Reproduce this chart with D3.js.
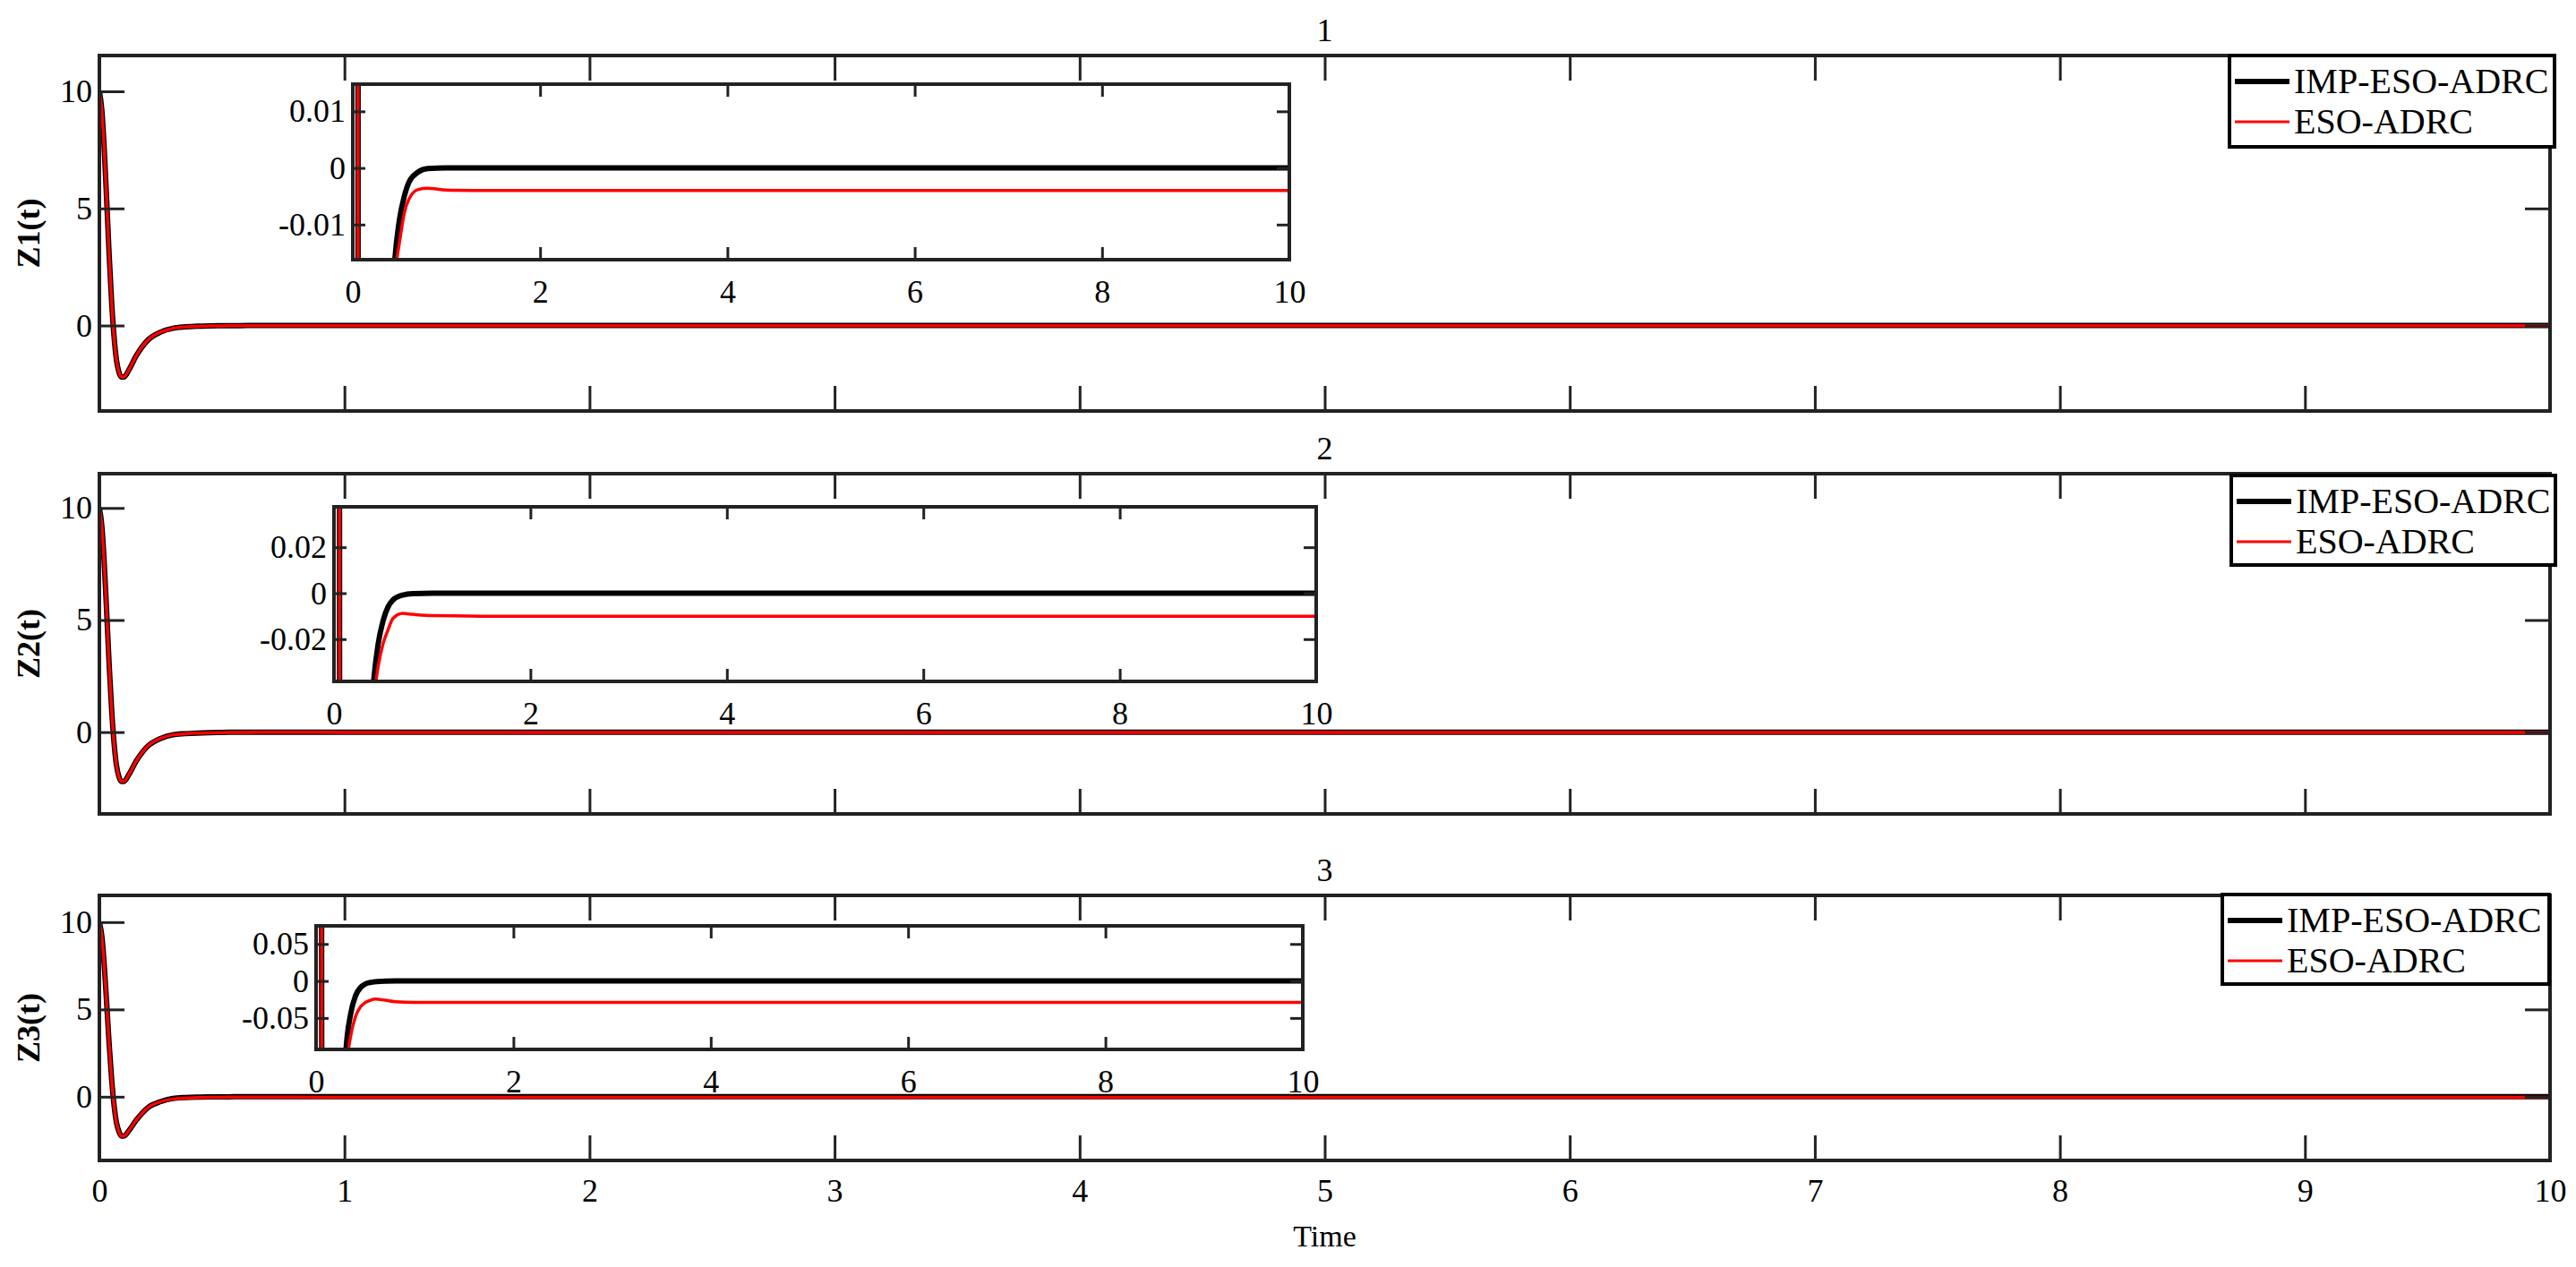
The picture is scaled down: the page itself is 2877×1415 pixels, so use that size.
<!DOCTYPE html>
<html><head><meta charset="utf-8">
<script src="https://cdn.jsdelivr.net/npm/d3@7"></script>
<style>body{margin:0;background:#fff}svg{display:block}svg text{font-family:"Liberation Serif","Times New Roman",serif !important;fill:#000}</style>
</head><body>
<script>
// ---- data ----
const seriesNames = ["IMP-ESO-ADRC", "ESO-ADRC"];
const panelTitles = ["1", "2", "3"];
const yLabels = ["Z1(t)", "Z2(t)", "Z3(t)"];
const mainXTicks = [0,1,2,3,4,5,6,7,8,9,10];
const mainYTicks = [0,5,10];
const insetXTicks = [0,2,4,6,8,10];
const insetYTicks1 = [-0.01, 0, 0.01];
const insetYTicks2 = [-0.02, 0, 0.02];
const insetYTicks3 = [-0.05, 0, 0.05];
const insetYDomains = [[-0.0162, 0.0148], [-0.0384, 0.0376], [-0.0925, 0.0745]];
const t = [0,0.01,0.02,0.03,0.04,0.05,0.06,0.07,0.08,0.09,0.1,0.12,0.15,0.2,0.25,0.3,0.35,0.4,0.45,0.5,0.55,0.6,0.7,0.8,1,1.5,2,10];
const imp1 = [10,9.2,7.5,5.3,3.0,1.0,-0.5,-1.5,-2.0,-2.2,-2.2,-1.9,-1.3,-0.6,-0.28,-0.12,-0.06,-0.03,-0.016,-0.009,-0.005,-0.0025,-0.0007,-0.0001,0,0,0,0];
const eso1 = [10,9.2,7.5,5.3,3.0,1.0,-0.5,-1.5,-2.0,-2.2,-2.2,-1.9,-1.3,-0.6,-0.28,-0.12,-0.06,-0.032,-0.019,-0.013,-0.008,-0.0055,-0.0038,-0.0036,-0.0039,-0.004,-0.004,-0.004];
const imp2 = [10,9.2,7.5,5.3,3.0,1.0,-0.5,-1.5,-2.0,-2.2,-2.2,-1.9,-1.3,-0.6,-0.28,-0.12,-0.07,-0.04,-0.022,-0.012,-0.006,-0.003,-0.0008,-0.0002,0,0,0,0];
const eso2 = [10,9.2,7.5,5.3,3.0,1.0,-0.5,-1.5,-2.0,-2.2,-2.2,-1.9,-1.3,-0.6,-0.28,-0.12,-0.075,-0.048,-0.032,-0.022,-0.016,-0.011,-0.0088,-0.0092,-0.0098,-0.01,-0.01,-0.01];
const imp3 = [10,9.2,7.5,5.3,3.0,1.0,-0.5,-1.5,-2.0,-2.25,-2.25,-1.95,-1.35,-0.6,-0.28,-0.1,-0.045,-0.02,-0.009,-0.004,-0.002,-0.001,-0.0002,0,0,0,0,0];
const eso3 = [10,9.2,7.5,5.3,3.0,1.0,-0.5,-1.5,-2.0,-2.25,-2.25,-1.95,-1.35,-0.6,-0.28,-0.13,-0.075,-0.048,-0.035,-0.029,-0.026,-0.0245,-0.026,-0.028,-0.029,-0.029,-0.029,-0.029];

// ---- layout ----
const W = 2877, H = 1415;
const SERIF = '"Liberation Serif","Times New Roman",serif';
const svg = d3.select("body").append("svg").attr("width", W).attr("height", H);
const left = 111, right = 2848;
const panels = [
  {top:62, bottom:459, data:[imp1,eso1], inset:{x0:394,x1:1440,y0:94,y1:290}, iy:insetYTicks1, leg:{x0:2490,x1:2853,y0:62,y1:164}},
  {top:529, bottom:909, data:[imp2,eso2], inset:{x0:373,x1:1470,y0:566,y1:761}, iy:insetYTicks2, leg:{x0:2492,x1:2854,y0:531,y1:631}},
  {top:1000, bottom:1296, data:[imp3,eso3], inset:{x0:353,x1:1455,y0:1034,y1:1172}, iy:insetYTicks3, leg:{x0:2482,x1:2847,y0:999,y1:1099}}
];
const colors = ["#000", "#ff0000"], widths = [6, 3.5];
const fs = 36;

function styleAxis(a) {
  a.attr("font-family", SERIF).attr("font-size", fs);
  a.selectAll("text").attr("font-family", SERIF).attr("font-size", fs).attr("fill", "#000");
}

function drawBox(g, x0, x1, y0, y1, xs, ys, xt, yt, tickLen, xlab, ylabFmt, clipId, series, labelGap) {
  svg.append("clipPath").attr("id", clipId).append("rect")
    .attr("x", x0).attr("y", y0).attr("width", x1 - x0).attr("height", y1 - y0);
  g.append("rect").attr("x", x0).attr("y", y0).attr("width", x1 - x0).attr("height", y1 - y0).attr("fill", "#fff");
  const lg = g.append("g").attr("clip-path", `url(#${clipId})`);
  series.forEach((s, i) => {
    lg.append("path").datum(t.map((tv, k) => [tv, s[k]]))
      .attr("fill", "none").attr("stroke", colors[i]).attr("stroke-width", widths[i])
      .attr("stroke-linejoin", "round")
      .attr("d", d3.line().x(d => xs(d[0])).y(d => ys(d[1])).curve(d3.curveMonotoneX));
  });
  const axB = d3.axisBottom(xs).tickValues(xt).tickSize(-tickLen).tickFormat(xlab ? d3.format("") : "").tickPadding(labelGap);
  const axT = d3.axisTop(xs).tickValues(xt).tickSize(-tickLen).tickFormat("");
  const axL = d3.axisLeft(ys).tickValues(yt).tickSize(-tickLen).tickFormat(ylabFmt).tickPadding(8);
  const axR = d3.axisRight(ys).tickValues(yt).tickSize(-tickLen).tickFormat("");
  [[axB, `translate(0,${y1})`], [axT, `translate(0,${y0})`], [axL, `translate(${x0},0)`], [axR, `translate(${x1},0)`]].forEach(([ax, tr]) => {
    const a = g.append("g").attr("transform", tr).call(ax);
    a.select(".domain").remove();
    a.selectAll("line").attr("stroke", "#222").attr("stroke-width", 3);
    styleAxis(a);
  });
  g.append("rect").attr("x", x0).attr("y", y0).attr("width", x1 - x0).attr("height", y1 - y0)
    .attr("fill", "none").attr("stroke", "#222").attr("stroke-width", 4);
}

panels.forEach((p, pi) => {
  const g = svg.append("g");
  const xs = d3.scaleLinear().domain([0, 10]).range([left, right]);
  const ys = d3.scaleLinear().domain([-3.65, 11.53]).range([p.bottom, p.top]);
  drawBox(g, left, right, p.top, p.bottom, xs, ys, mainXTicks.slice(1, -1), mainYTicks, 28, false, d => d, "c" + pi, p.data, 10);
  if (pi === 2) {
    const a = g.append("g").attr("transform", `translate(0,${p.bottom})`)
      .call(d3.axisBottom(xs).tickValues(mainXTicks).tickSize(0).tickPadding(20));
    a.select(".domain").remove();
    styleAxis(a);
  }
  g.append("text").attr("x", (left + right) / 2).attr("y", p.top - 16).attr("text-anchor", "middle")
    .attr("font-family", SERIF).attr("font-size", 36).text(panelTitles[pi]);
  g.append("text").attr("transform", `translate(44,${(p.top + p.bottom) / 2}) rotate(-90)`)
    .attr("text-anchor", "middle").attr("font-family", SERIF).attr("font-size", 36).attr("font-weight", "bold").text(yLabels[pi]);
  const I = p.inset;
  const ixs = d3.scaleLinear().domain([0, 10]).range([I.x0, I.x1]);
  const iys = d3.scaleLinear().domain(insetYDomains[pi]).range([I.y1, I.y0]);
  const ig = svg.append("g");
  drawBox(ig, I.x0, I.x1, I.y0, I.y1, ixs, iys, insetXTicks, p.iy, 14, true, d => d === 0 ? "0" : String(d), "ic" + pi, p.data, 22);
  const L = p.leg;
  const lgd = svg.append("g");
  lgd.append("rect").attr("x", L.x0).attr("y", L.y0).attr("width", L.x1 - L.x0).attr("height", L.y1 - L.y0)
    .attr("fill", "#fff").attr("stroke", "#000").attr("stroke-width", 4);
  seriesNames.forEach((n, i) => {
    const yy = L.y0 + 29 + i * 45;
    lgd.append("line").attr("x1", L.x0 + 6).attr("x2", L.x0 + 67).attr("y1", yy).attr("y2", yy)
      .attr("stroke", colors[i]).attr("stroke-width", i === 0 ? 6 : 3);
    lgd.append("text").attr("x", L.x0 + 72).attr("y", yy + 13).attr("font-family", SERIF).attr("font-size", 40).text(n);
  });
});
svg.append("text").attr("x", (left + right) / 2).attr("y", 1392).attr("text-anchor", "middle")
  .attr("font-family", SERIF).attr("font-size", 34).text("Time");
</script>
</body></html>
